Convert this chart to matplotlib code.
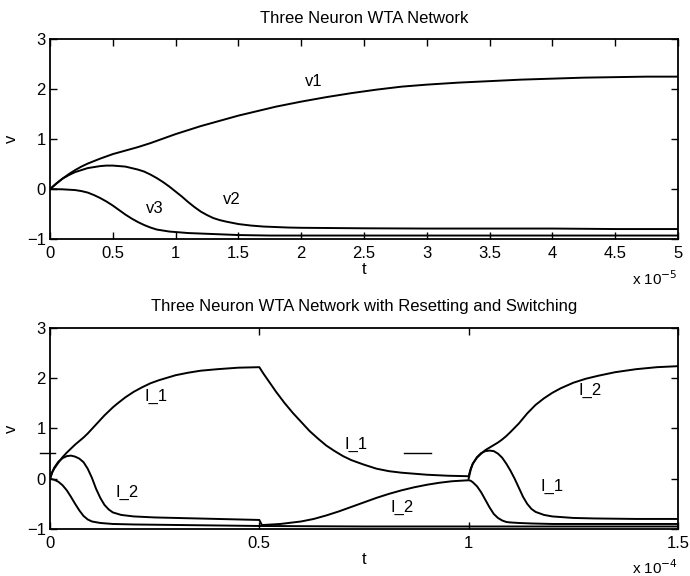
import matplotlib
matplotlib.use("Agg")
import matplotlib.pyplot as plt

plt.rcParams['font.family'] = ['Liberation Sans', 'DejaVu Sans']

# ---------------- Top panel data (t in units of 1e-5) ----------------
t_v1 = [0, 0.05, 0.1, 0.15, 0.2, 0.25, 0.3, 0.4, 0.5, 0.6, 0.7, 0.8, 0.9, 1.0, 1.1, 1.2, 1.3, 1.4,
        1.5, 1.6, 1.7, 1.8, 1.9, 2.0, 2.2, 2.4, 2.6, 2.8, 3.0, 3.25, 3.5, 3.75, 4.0, 4.25, 4.5, 4.75, 5.0]
v1 = [0, 0.11, 0.21, 0.30, 0.38, 0.45, 0.51, 0.61, 0.70, 0.77, 0.84, 0.92, 1.01, 1.10, 1.18, 1.26, 1.33, 1.40,
      1.47, 1.53, 1.59, 1.65, 1.70, 1.75, 1.84, 1.92, 1.99, 2.05, 2.09, 2.13, 2.16, 2.19, 2.21, 2.23, 2.24, 2.25, 2.25]

t_v2 = [0, 0.05, 0.1, 0.15, 0.2, 0.25, 0.3, 0.35, 0.4, 0.45, 0.5, 0.55, 0.6, 0.65, 0.7, 0.75, 0.8, 0.85,
        0.9, 0.95, 1.0, 1.05, 1.1, 1.15, 1.2, 1.25, 1.3, 1.35, 1.4, 1.5, 1.6, 1.7, 1.8, 1.9, 2.0, 2.25,
        2.5, 3.0, 3.5, 4.0, 4.5, 5.0]
v2 = [0, 0.11, 0.21, 0.28, 0.34, 0.38, 0.42, 0.44, 0.46, 0.47, 0.47, 0.46, 0.45, 0.42, 0.39, 0.35, 0.29, 0.22,
      0.14, 0.05, -0.05, -0.15, -0.26, -0.36, -0.45, -0.52, -0.58, -0.62, -0.65, -0.70, -0.73, -0.75, -0.76,
      -0.77, -0.775, -0.78, -0.785, -0.79, -0.79, -0.79, -0.80, -0.80]

t_v3 = [0, 0.1, 0.2, 0.25, 0.3, 0.35, 0.4, 0.45, 0.5, 0.55, 0.6, 0.65, 0.7, 0.75, 0.8, 0.85, 0.9, 0.95,
        1.0, 1.1, 1.2, 1.3, 1.4, 1.5, 1.75, 2.0, 2.5, 3.0, 4.0, 5.0]
v3 = [0, -0.005, -0.02, -0.04, -0.07, -0.12, -0.18, -0.25, -0.33, -0.42, -0.51, -0.59, -0.66, -0.72, -0.77,
      -0.81, -0.83, -0.85, -0.86, -0.88, -0.89, -0.90, -0.91, -0.92, -0.93, -0.93, -0.93, -0.93, -0.93, -0.93]

top_labels = ["v1", "v2", "v3"]
top_label_t = [2.1, 1.45, 0.83]
top_label_v = [2.15, -0.2, -0.38]

# ---------------- Bottom panel data (t in units of 1e-4) ----------------
# neuron 1: rises, resets at 0.5 and decays, rises again after the switch at 1.0
t_n1 = [0, 0.005, 0.01, 0.02, 0.03, 0.04, 0.05, 0.06, 0.07, 0.08, 0.09, 0.1, 0.11, 0.12, 0.13, 0.14,
        0.15, 0.16, 0.18, 0.2, 0.22, 0.24, 0.26, 0.28, 0.3, 0.33, 0.36, 0.4, 0.45, 0.5,
        0.51, 0.52, 0.53, 0.54, 0.55, 0.56, 0.58, 0.6, 0.62, 0.64, 0.66, 0.68, 0.7, 0.72, 0.75,
        0.78, 0.81, 0.84, 0.87, 0.9, 0.95, 1.0,
        1.005, 1.01, 1.02, 1.03, 1.04, 1.05, 1.06, 1.07, 1.08, 1.09, 1.1, 1.12, 1.14, 1.16, 1.18,
        1.2, 1.22, 1.25, 1.28, 1.31, 1.35, 1.4, 1.45, 1.5]
n1 = [0, 0.12, 0.2, 0.32, 0.43, 0.52, 0.6, 0.68, 0.75, 0.82, 0.9, 0.99, 1.08, 1.17, 1.26, 1.34,
      1.42, 1.49, 1.62, 1.73, 1.82, 1.9, 1.96, 2.01, 2.06, 2.11, 2.15, 2.18, 2.21, 2.22,
      2.09, 1.97, 1.85, 1.73, 1.62, 1.51, 1.31, 1.13, 0.95, 0.80, 0.66, 0.55, 0.45, 0.37, 0.28,
      0.20, 0.15, 0.12, 0.10, 0.08, 0.06, 0.05,
      0.2, 0.3, 0.42, 0.5, 0.57, 0.62, 0.67, 0.72, 0.78, 0.85, 0.93, 1.1, 1.3, 1.47, 1.6,
      1.71, 1.8, 1.91, 1.99, 2.05, 2.12, 2.18, 2.22, 2.24]

# neuron 2: early peak then drop, reset at 0.5 and slow rise, drops after 1.0
t_n2 = [0, 0.005, 0.01, 0.02, 0.03, 0.04, 0.05, 0.06, 0.07, 0.08, 0.09, 0.1, 0.11, 0.12, 0.13, 0.14,
        0.15, 0.17, 0.2, 0.25, 0.3, 0.4, 0.5, 0.503, 0.506,
        0.51, 0.53, 0.55, 0.57, 0.6, 0.63, 0.66, 0.69, 0.72, 0.75, 0.78, 0.81, 0.84, 0.87, 0.9, 0.93,
        0.96, 1.0,
        1.005, 1.01, 1.02, 1.03, 1.04, 1.05, 1.06, 1.07, 1.08, 1.09, 1.1, 1.12, 1.15, 1.2, 1.3, 1.4, 1.5]
n2 = [0, 0.13, 0.22, 0.34, 0.41, 0.45, 0.46, 0.44, 0.40, 0.33, 0.2, 0.02, -0.2, -0.38, -0.52, -0.61,
      -0.67, -0.72, -0.75, -0.77, -0.78, -0.80, -0.82, -0.87, -0.92,
      -0.92, -0.91, -0.9, -0.88, -0.85, -0.8, -0.73, -0.65, -0.56, -0.47, -0.38, -0.3, -0.23, -0.17,
      -0.12, -0.08, -0.05, -0.03,
      -0.04, -0.07, -0.15, -0.27, -0.42, -0.57, -0.7, -0.78, -0.83, -0.86, -0.87, -0.88, -0.89,
      -0.9, -0.9, -0.9, -0.9]

# neuron 3: drops to the floor and stays there
t_n3 = [0, 0.005, 0.01, 0.02, 0.03, 0.04, 0.05, 0.06, 0.07, 0.08, 0.09, 0.1, 0.12, 0.15, 0.2, 0.3,
        0.4, 0.5, 0.75, 1.0, 1.25, 1.5]
n3 = [0, -0.01, -0.02, -0.06, -0.13, -0.23, -0.36, -0.5, -0.63, -0.74, -0.81, -0.85, -0.88, -0.9,
      -0.91, -0.92, -0.93, -0.94, -0.95, -0.95, -0.95, -0.95]

# trace starting at the switch at t = 1.0 (peak then decline)
t_n3b = [1.0, 1.005, 1.01, 1.02, 1.03, 1.04, 1.05, 1.06, 1.07, 1.08, 1.09, 1.1, 1.11, 1.12, 1.13,
         1.14, 1.15, 1.16, 1.18, 1.2, 1.25, 1.3, 1.4, 1.5]
n3b = [0.0, 0.18, 0.3, 0.43, 0.51, 0.55, 0.56, 0.55, 0.5, 0.42, 0.3, 0.16, 0.0, -0.18, -0.36,
       -0.5, -0.6, -0.66, -0.72, -0.75, -0.78, -0.79, -0.8, -0.8]

bot_labels = ["I_1", "I_2", "I_1", "I_2", "I_2", "I_1"]
bot_label_t = [0.253, 0.184, 0.73, 0.84, 1.29, 1.2]
bot_label_v = [1.63, -0.28, 0.69, -0.57, 1.76, -0.15]

# stray dash marks in the figure
dash1_t = [-0.024, 0.012]
dash1_v = [0.52, 0.52]
dash2_t = [0.845, 0.909]
dash2_v = [0.52, 0.52]

top_xticks = [0, 0.5, 1, 1.5, 2, 2.5, 3, 3.5, 4, 4.5, 5]
top_xticklabels = ["0", "0.5", "1", "1.5", "2", "2.5", "3", "3.5", "4", "4.5", "5"]
bot_xticks = [0, 0.5, 1, 1.5]
bot_xticklabels = ["0", "0.5", "1", "1.5"]
yticks = [-1, 0, 1, 2, 3]
yticklabels = ["\u22121", "0", "1", "2", "3"]

fig = plt.figure(figsize=(6.9, 5.76), dpi=100)
ax1 = fig.add_axes([0.0725, 0.585, 0.910, 0.347])
ax2 = fig.add_axes([0.0725, 0.0816, 0.910, 0.349])

lc = "black"
lw = 1.4
fs_tick = 12
fs_lab = 12

def style(ax, xticks, xtl, xmax):
    ax.set_xlim(0, xmax)
    ax.set_ylim(-1, 3)
    ax.set_xticks(xticks)
    ax.set_xticklabels(xtl, fontsize=fs_tick)
    ax.set_yticks(yticks)
    ax.set_yticklabels(yticklabels, fontsize=fs_tick)
    ax.tick_params(direction="in", top=True, right=True, length=5, width=1)
    ax.tick_params(axis="x", pad=5)
    ax.tick_params(axis="y", pad=3)
    for s in ax.spines.values():
        s.set_linewidth(1.3)
    ax.set_xlabel("t", fontsize=fs_lab, labelpad=1)
    ax.set_ylabel("v", fontsize=fs_lab, labelpad=6)

# Top
ax1.plot(t_v1, v1, color=lc, lw=lw)
ax1.plot(t_v2, v2, color=lc, lw=lw)
ax1.plot(t_v3, v3, color=lc, lw=lw)
for s, x, y in zip(top_labels, top_label_t, top_label_v):
    ax1.text(x, y, s, fontsize=fs_lab, ha="center", va="center")
style(ax1, top_xticks, top_xticklabels, 5)
ax1.set_title("Three Neuron WTA Network", fontsize=fs_lab, pad=12)
ax1.text(1.0, -0.2, "x 10$^{-5}$", transform=ax1.transAxes, ha="right", va="center", fontsize=fs_lab - 1)

# Bottom
ax2.plot(t_n1, n1, color=lc, lw=lw)
ax2.plot(t_n2, n2, color=lc, lw=lw)
ax2.plot(t_n3, n3, color=lc, lw=lw)
ax2.plot(t_n3b, n3b, color=lc, lw=lw)
ax2.plot(dash1_t, dash1_v, color=lc, lw=1.0, clip_on=False)
ax2.plot(dash2_t, dash2_v, color=lc, lw=1.0)
for s, x, y in zip(bot_labels, bot_label_t, bot_label_v):
    ax2.text(x, y, s, fontsize=fs_lab, ha="center", va="center")
style(ax2, bot_xticks, bot_xticklabels, 1.5)
ax2.set_title("Three Neuron WTA Network with Resetting and Switching", fontsize=fs_lab, pad=12)
ax2.text(1.0, -0.19, "x 10$^{-4}$", transform=ax2.transAxes, ha="right", va="center", fontsize=fs_lab - 1)

fig.savefig("out.png", dpi=100)
